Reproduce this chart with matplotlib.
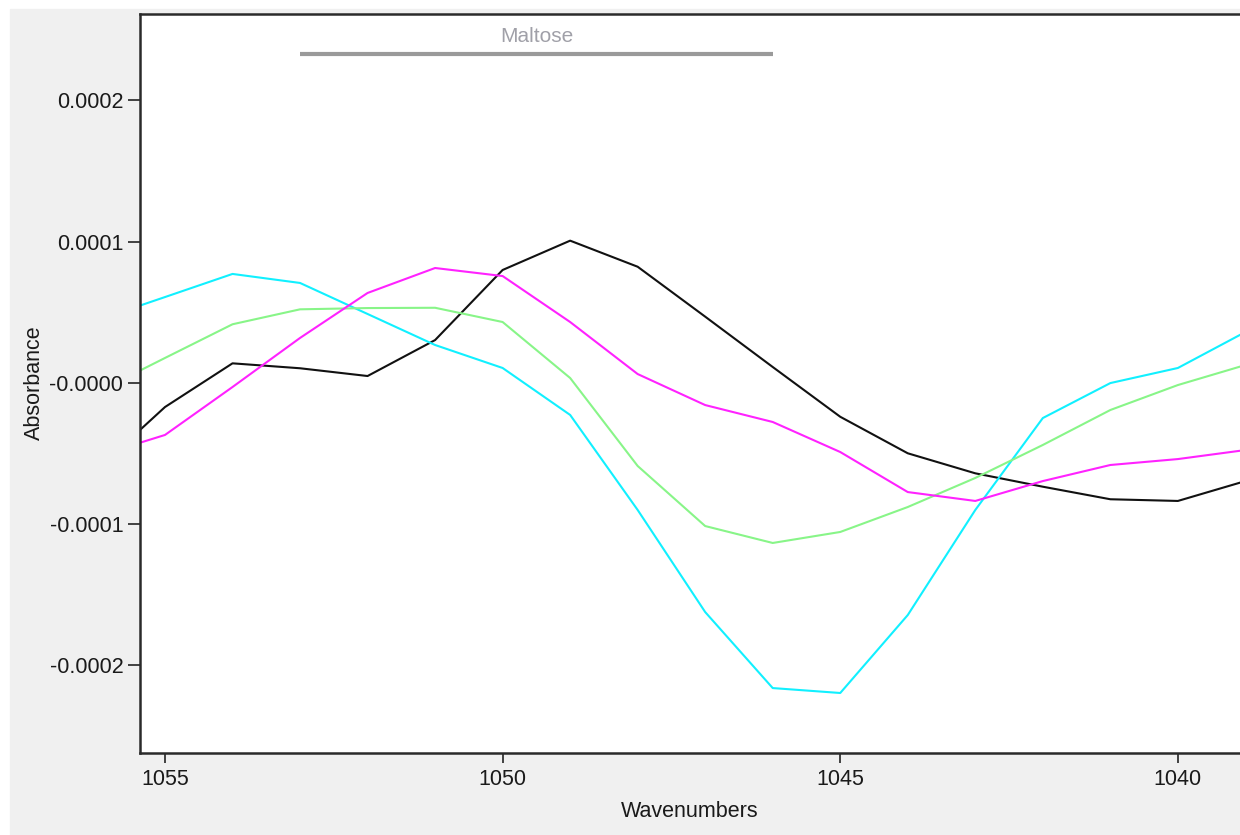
import matplotlib.pyplot as plt
import numpy as np
from matplotlib.patches import Rectangle

# Absorbance spectra around the maltose band (values in 1e-6 units)
wavenumbers = np.arange(1056, 1038, -1)
black = [-61.3, -17.4, 13.6, 10.1, 4.6, 30.1, 79.8, 100.6, 82.1, 46.7,
         11.0, -24.3, -50.2, -64.4, -73.9, -82.8, -84.0, -69.9]
cyan = [44.3, 60.6, 77.0, 70.6, 48.6, 26.6, 10.3, -23.0, -90.4, -162.8,
        -216.7, -220.2, -164.9, -90.4, -25.2, -0.4, 10.3, 35.8]
green = [-6.7, 17.4, 41.3, 51.9, 52.8, 53.0, 42.9, 3.2, -59.2, -101.8,
         -113.8, -106.0, -88.3, -67.7, -44.3, -19.5, -1.8, 12.4]
magenta = [-52.1, -37.2, -3.2, 31.6, 63.5, 81.2, 75.5, 42.9, 6.0, -16.0,
           -28.0, -49.3, -77.7, -84.0, -69.9, -58.5, -54.3, -47.9]

y_ticks = [2e-4, 1e-4, 0.0, -1e-4, -2e-4]
y_tick_labels = ["0.0002", "0.0001", "-0.0000", "-0.0001", "-0.0002"]
x_ticks = [1055, 1050, 1045, 1040]

band_label = "Maltose"
band_range = (1053.0, 1046.0)

plt.rcParams["font.family"] = ["Liberation Sans", "DejaVu Sans"]

fig = plt.figure(figsize=(12.4, 8.35), dpi=100, facecolor="white")
fig.patches.append(Rectangle((10 / 1240, 0), 1, (835 - 9) / 835,
                             transform=fig.transFigure, color="#f0f0f0",
                             zorder=-10))
ax = fig.add_axes([140 / 1240, 1 - 752.5 / 835, 1100 / 1240,
                   (752.5 - 13.5) / 835])
ax.set_facecolor("white")

series = [(black, "#111111"), (cyan, "#11f0ff"), (green, "#88f588"),
          (magenta, "#ff22ff")]
for values, color in series:
    ax.plot(wavenumbers, np.array(values) * 1e-6, color=color, lw=1.5)

ax.set_xlim(1055.37, 1039.08)
ax.set_ylim(-2.624e-4, 2.617e-4)

ax.set_yticks(y_ticks)
ax.set_yticklabels(y_tick_labels)
ax.set_xticks(x_ticks)
ax.tick_params(axis="y", length=9, width=1.3, labelsize=15.5, pad=3,
               colors="#333333", labelcolor="#1a1a1a")
ax.tick_params(axis="x", length=7, width=1.3, labelsize=15.5, pad=5,
               colors="#333333", labelcolor="#1a1a1a")

for side in ("left", "top", "bottom"):
    ax.spines[side].set_linewidth(1.8)
    ax.spines[side].set_color("#2a2a2a")
ax.spines["right"].set_visible(False)

ax.set_xlabel("Wavenumbers", fontsize=15.5, color="#1a1a1a", labelpad=8)
ax.set_ylabel("Absorbance", fontsize=15.5, color="#1a1a1a", labelpad=3)

# band marker above the curves
band_y = 2.33e-4
ax.plot(band_range, [band_y, band_y], color="#9a9a9a", lw=3,
        solid_capstyle="butt")
ax.text(sum(band_range) / 2, band_y + 0.06e-4, band_label, ha="center",
        va="bottom", fontsize=15, color="#a0a0a8")

fig.savefig("out.png", dpi=100, facecolor=fig.get_facecolor())
